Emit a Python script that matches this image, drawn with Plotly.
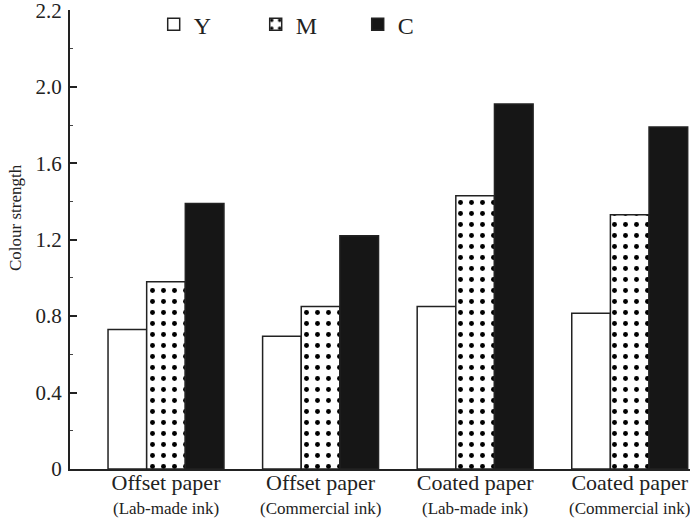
import plotly.graph_objects as go

categories = ["Offset paper", "Offset paper", "Coated paper", "Coated paper"]
subtitles = ["(Lab-made ink)", "(Commercial ink)", "(Lab-made ink)", "(Commercial ink)"]
series_names = ["Y", "M", "C"]
y_values = [0.73, 0.695, 0.85, 0.815]
m_values = [0.98, 0.85, 1.43, 1.33]
c_values = [1.39, 1.22, 1.91, 1.79]
tick_vals = [0, 0.4, 0.8, 1.2, 1.6, 2.0, 2.4]
tick_text = ["0", "0.4", "0.8", "1.2", "1.6", "2.0", "2.2"]

x = list(range(len(categories)))
font_family = "Liberation Serif, Times New Roman, serif"
line = dict(color="#222222", width=1.5)

fig = go.Figure()
fig.add_trace(go.Bar(x=x, y=y_values, name=series_names[0],
                     marker=dict(color="white", line=line)))
fig.add_trace(go.Bar(x=x, y=m_values, name=series_names[1],
                     marker=dict(color="white", line=line,
                                 pattern=dict(shape=".", fgcolor="black", bgcolor="white",
                                              fgopacity=1, size=11, solidity=0.16,
                                              fillmode="overlay"))))
fig.add_trace(go.Bar(x=x, y=c_values, name=series_names[2],
                     marker=dict(color="#161616", line=line)))

for xi, s in zip(x, subtitles):
    fig.add_annotation(x=xi, y=-0.087, xref="x", yref="paper", text=s, showarrow=False,
                       font=dict(size=17, family=font_family, color="#222222"),
                       xanchor="center", yanchor="middle")

fig.add_annotation(x=(15 - 70) / 620, y=(469 - 218) / 459, xref="paper", yref="paper",
                   text="Colour strength", textangle=-90, showarrow=False,
                   font=dict(size=17, family=font_family, color="#222222"),
                   xanchor="center", yanchor="middle")

fig.update_layout(
    width=690, height=518,
    margin=dict(l=70, r=0, t=10, b=49, autoexpand=False),
    paper_bgcolor="white", plot_bgcolor="white",
    barmode="group", bargap=0.25, bargroupgap=0,
    font=dict(family=font_family, color="#222222", size=18),
    showlegend=True,
    legend=dict(orientation="h", x=0.135, y=0.968, xanchor="left", yanchor="middle",
                font=dict(size=24, family=font_family), entrywidth=57, entrywidthmode="pixels",
                bgcolor="rgba(0,0,0,0)"),
    xaxis=dict(range=[-0.621, 3.39], tickvals=x, ticktext=categories, showline=True,
               linecolor="#222222", linewidth=2, ticks="", showgrid=False, zeroline=False,
               tickfont=dict(size=22), ticklabelstandoff=-7, automargin=False,
               ticklabeloverflow="allow"),
    yaxis=dict(range=[0, 2.402], tickvals=tick_vals, ticktext=tick_text, showline=True,
               linecolor="#222222", linewidth=2, ticks="inside", ticklen=7, tickwidth=1.5,
               tickcolor="#222222", showgrid=False, zeroline=False, automargin=False,
               tickfont=dict(size=21), ticklabelstandoff=2, ticklabeloverflow="allow",
               minor=dict(tickvals=[0.2, 0.6, 1.0, 1.4, 1.8, 2.2], ticks="inside", ticklen=3,
                          tickwidth=1, tickcolor="#444444", showgrid=False)),
)

fig.write_html("out.html", config={"displayModeBar": False},
               post_script="document.body.style.margin='0';document.body.style.padding='0';")
